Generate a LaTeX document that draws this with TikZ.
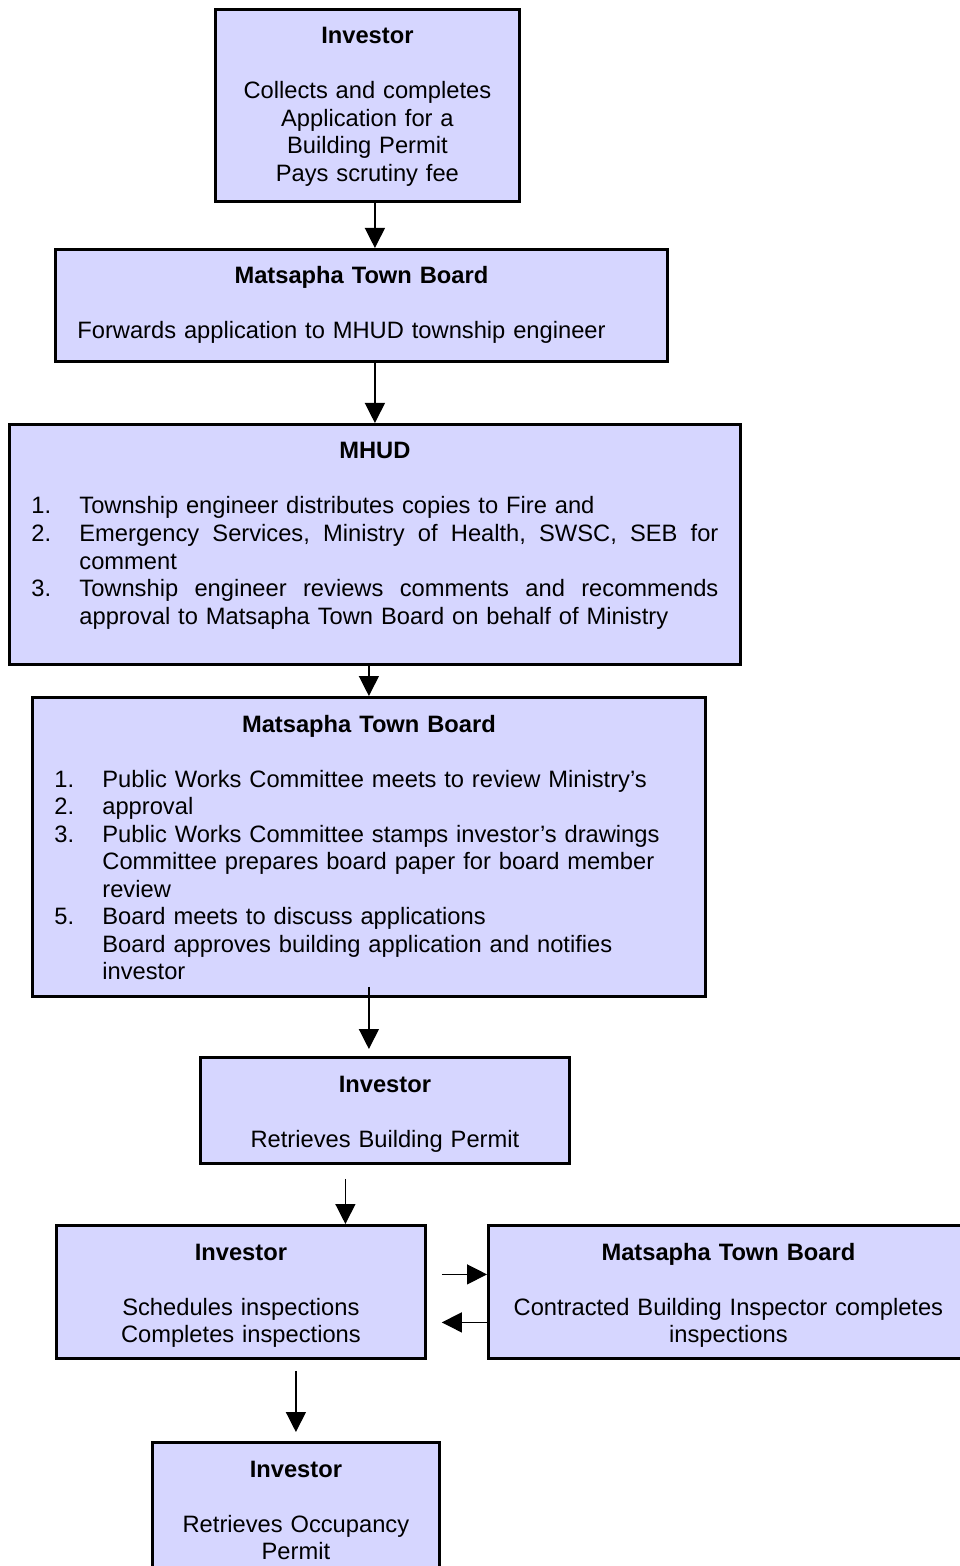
\documentclass[tikz,border=0pt]{standalone}
\usepackage{fontspec}
\setmainfont{Liberation Sans}
\usepackage{tikz}
\usetikzlibrary{calc}
\usetikzlibrary{arrows.meta}

\definecolor{boxfill}{RGB}{214,214,255}

\tikzset{
  stepbox/.style={draw=black,line width=1.4pt,fill=boxfill,anchor=north west,
    inner xsep=11pt,inner ysep=7.7pt,text height=9.6pt,
    font=\fontsize{11.85}{13.75}\selectfont},
  flow/.style={line width=0.65pt,-{Triangle[length=10pt,width=10pt]}}
}

% number column of the lists
\newcommand{\stepnum}[1]{\makebox[24pt][l]{#1}}

\begin{document}
\begin{tikzpicture}[x=0.5pt,y=-0.5pt]
\useasboundingbox (0,0) rectangle (959,1566);

\node[stepbox,align=center,text width=130pt,text depth=71pt] (inv1) at (214,8)
  {\textbf{Investor}\\[13.75pt]Collects and completes\\Application for a\\Building Permit\\Pays scrutiny fee};

\node[stepbox,text width=284pt,text depth=31pt] (mtb1) at (54,248)
  {{\centering\bfseries Matsapha Town Board\par}\vspace{13.75pt}Forwards application to MHUD township engineer};

\node[stepbox,text width=343.5pt,text depth=95pt] (mhud) at (8,423)
  {{\centering\bfseries MHUD\par}\vspace{13.75pt}%
   \stepnum{1.}Township engineer distributes copies to Fire and\\
   \stepnum{2.}\hbox to 319.5pt{Emergency\hfill Services,\hfill Ministry\hfill of\hfill Health,\hfill SWSC,\hfill SEB\hfill for}\\
   \hspace*{24pt}comment\\
   \stepnum{3.}\hbox to 319.5pt{Township\hfill engineer\hfill reviews\hfill comments\hfill and\hfill recommends}\\
   \hspace*{24pt}approval to Matsapha Town Board on behalf of Ministry};

\node[stepbox,text width=314.5pt,text depth=124.5pt] (mtb2) at (31,696)
  {{\centering\bfseries Matsapha Town Board\par}\vspace{13.75pt}%
   \stepnum{1.}Public Works Committee meets to review Ministry’s\\
   \stepnum{2.}approval\\
   \stepnum{3.}Public Works Committee stamps investor’s drawings\\
   \hspace*{24pt}Committee prepares board paper for board member\\
   \hspace*{24pt}review\\
   \stepnum{5.}Board meets to discuss applications\\
   \hspace*{24pt}Board approves building application and notifies\\
   \hspace*{24pt}investor};

\node[stepbox,align=center,text width=162.5pt,text depth=28pt] (inv2) at (199,1056)
  {\textbf{Investor}\\[13.75pt]Retrieves Building Permit};

\node[stepbox,align=center,text width=162.5pt,text depth=41.5pt] (insp) at (55,1224)
  {\textbf{Investor}\\[13.75pt]Schedules inspections\\Completes inspections};

\node[stepbox,align=center,inner xsep=8pt,text width=224pt,text depth=41.5pt] (mtbinsp) at (487,1224)
  {\textbf{Matsapha Town Board}\\[13.75pt]Contracted Building Inspector completes\\inspections};

\node[stepbox,align=center,text width=121.5pt,text depth=45pt] (occ) at (151,1441)
  {\textbf{Investor}\\[13.75pt]Retrieves Occupancy\\Permit};

\draw[flow] (inv1.south -| mhud) -- (mtb1.north -| mhud);
\draw[flow] (mtb1.south -| mhud) -- (mhud.north);
\draw[flow] (mhud.south -| mtb2) -- (mtb2.north);
\draw[flow] ($(mtb2.south)+(0,5.5pt)$) -- ($(inv2.north -| mtb2)+(0,3.5pt)$);
\draw[flow] ($(inv2.south)+(-19.75pt,-7pt)$) -- ($(insp.north)+(52.25pt,0)$);
\draw[flow] ($(insp.east)+(7.5pt,8.75pt)$) -- ($(mtbinsp.west)+(0,8.75pt)$);
\draw[flow] ($(mtbinsp.west)+(0,-15.25pt)$) -- ($(insp.east)+(7.5pt,-15.25pt)$);
\draw[flow] ($(insp.south -| occ)+(0,-5.5pt)$) -- ($(occ.north)+(0,4.5pt)$);
\end{tikzpicture}
\end{document}
